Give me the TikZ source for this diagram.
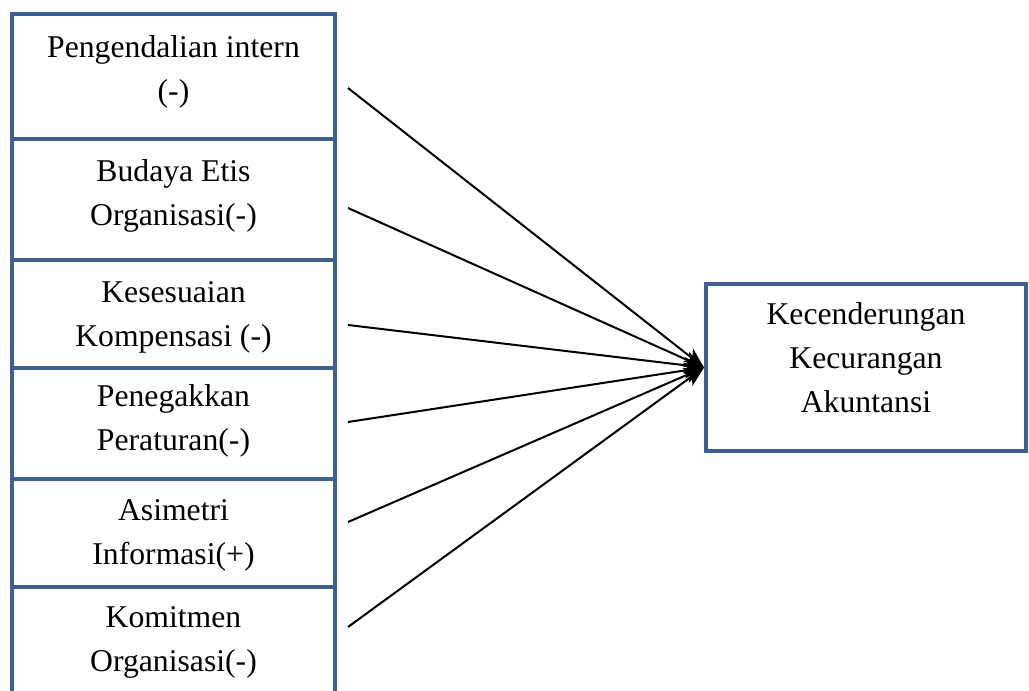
\documentclass[tikz,border=0pt]{standalone}
\usepackage{fontspec}
\setmainfont{Liberation Serif}
\usepackage{tikz}
\usetikzlibrary{arrows.meta}
\definecolor{boxblue}{RGB}{62,96,142}
\tikzstyle{varbox}=[rectangle,draw=boxblue,line width=4pt,fill=none,minimum width=323pt,inner sep=0pt]
\tikzstyle{outbox}=[rectangle,draw=boxblue,line width=4pt,fill=none,minimum width=320pt,minimum height=167pt,inner sep=0pt]
\tikzstyle{label}=[align=center,inner sep=0pt,font=\fontsize{31.7}{44}\selectfont]
\tikzstyle{inarrow}=[-{Stealth[length=20pt,width=16pt,inset=5pt]},line width=2pt,draw=black]
\pgfdeclarelayer{edgelayer}
\pgfdeclarelayer{nodelayer}
\pgfsetlayers{edgelayer,nodelayer,main}
\begin{document}
\begin{tikzpicture}[x=1pt,y=-1pt]
	\useasboundingbox (0,0) rectangle (1029,691);
	\begin{pgfonlayer}{nodelayer}
		\node [style=varbox, minimum height=125pt] (pi) at (173.5, 76.5) {};
		\node [style=varbox, minimum height=121pt] (be) at (173.5, 199.5) {};
		\node [style=varbox, minimum height=108pt] (kk) at (173.5, 314) {};
		\node [style=varbox, minimum height=111pt] (pp) at (173.5, 423.5) {};
		\node [style=varbox, minimum height=108pt] (ai) at (173.5, 533) {};
		\node [style=varbox, minimum height=113pt] (ko) at (173.5, 643.5) {};
		\node [style=outbox] (kca) at (866, 367.5) {};

		\node [style=label] at (173.5, 72) {Pengendalian intern\\(-)};
		\node [style=label] at (173.5, 196) {Budaya Etis\\Organisasi(-)};
		\node [style=label] at (173.5, 317) {Kesesuaian\\Kompensasi (-)};
		\node [style=label] at (173.5, 421) {Penegakkan\\Peraturan(-)};
		\node [style=label] at (173.5, 535) {Asimetri\\Informasi(+)};
		\node [style=label] at (173.5, 642) {Komitmen\\Organisasi(-)};
		\node [style=label] at (866, 358) {Kecenderungan\\Kecurangan\\Akuntansi};

		\coordinate (opi) at (348, 88);
		\coordinate (obe) at (348, 208);
		\coordinate (okk) at (348, 325);
		\coordinate (opp) at (348, 422);
		\coordinate (oai) at (348, 522);
		\coordinate (oko) at (348, 627);
	\end{pgfonlayer}
	\begin{pgfonlayer}{edgelayer}
		\draw [style=inarrow] (opi) to (kca.west);
		\draw [style=inarrow] (obe) to (kca.west);
		\draw [style=inarrow] (okk) to (kca.west);
		\draw [style=inarrow] (opp) to (kca.west);
		\draw [style=inarrow] (oai) to (kca.west);
		\draw [style=inarrow] (oko) to (kca.west);
	\end{pgfonlayer}
\end{tikzpicture}
\end{document}
